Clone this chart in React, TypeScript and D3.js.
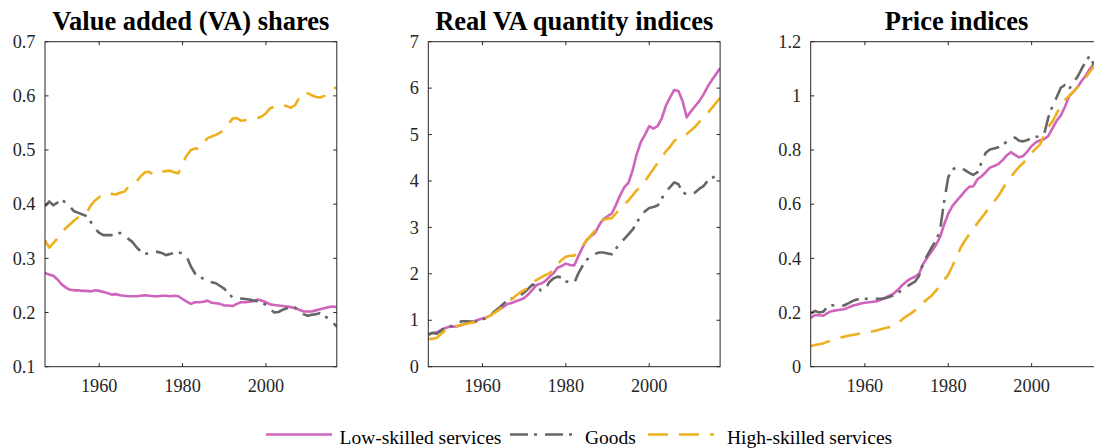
import React from 'react';
import * as d3 from 'd3';

const years: number[] = d3.range(1947, 2018);

// Panel 1: value added shares
const shareLow = [
  0.273, 0.270, 0.268, 0.261, 0.252, 0.246, 0.242, 0.241, 0.241, 0.240,
  0.240, 0.239, 0.241, 0.240, 0.238, 0.236, 0.233, 0.234, 0.232, 0.231,
  0.230, 0.230, 0.230, 0.231, 0.232, 0.231, 0.230, 0.230, 0.231, 0.231,
  0.230, 0.231, 0.230, 0.225, 0.220, 0.216, 0.219, 0.219, 0.220, 0.222,
  0.218, 0.217, 0.216, 0.213, 0.213, 0.212, 0.216, 0.219, 0.219, 0.220,
  0.221, 0.224, 0.222, 0.219, 0.215, 0.214, 0.213, 0.212, 0.211, 0.210,
  0.208, 0.205, 0.202, 0.202, 0.202, 0.204, 0.206, 0.208, 0.210, 0.211,
  0.210,
];
const shareGoods = [
  0.396, 0.405, 0.398, 0.403, 0.409, 0.402, 0.395, 0.387, 0.384, 0.381,
  0.378, 0.367, 0.355, 0.347, 0.343, 0.343, 0.343, 0.345, 0.347, 0.344,
  0.336, 0.330, 0.320, 0.313, 0.308, 0.310, 0.312, 0.312, 0.310, 0.306,
  0.308, 0.310, 0.311, 0.309, 0.303, 0.285, 0.272, 0.268, 0.262, 0.257,
  0.256, 0.254, 0.249, 0.244, 0.235, 0.228, 0.226, 0.226, 0.225, 0.224,
  0.222, 0.221, 0.219, 0.214, 0.207, 0.200, 0.201, 0.205, 0.208, 0.209,
  0.209, 0.204, 0.197, 0.194, 0.196, 0.197, 0.199, 0.195, 0.188, 0.182,
  0.174,
];
const shareHigh = [
  0.333, 0.320, 0.328, 0.337, 0.347, 0.356, 0.363, 0.370, 0.376, 0.380,
  0.384, 0.398, 0.407, 0.413, 0.420, 0.420, 0.419, 0.418, 0.421, 0.423,
  0.432, 0.437, 0.442, 0.452, 0.459, 0.460, 0.454, 0.457, 0.460, 0.461,
  0.462, 0.459, 0.457, 0.475, 0.490, 0.500, 0.503, 0.502, 0.513, 0.522,
  0.525, 0.528, 0.532, 0.538, 0.548, 0.558, 0.559, 0.554, 0.555, 0.556,
  0.557, 0.559, 0.562, 0.568, 0.577, 0.580, 0.583, 0.583, 0.581, 0.578,
  0.583, 0.597, 0.607, 0.605, 0.601, 0.598, 0.597, 0.600, 0.605, 0.611,
  0.617,
];

// Panel 2: real VA quantity indices
const qtyLow = [
  0.69, 0.72, 0.74, 0.79, 0.83, 0.86, 0.86, 0.87, 0.90, 0.93,
  0.96, 0.98, 1.01, 1.04, 1.06, 1.11, 1.18, 1.23, 1.29, 1.35,
  1.37, 1.41, 1.44, 1.48, 1.56, 1.66, 1.76, 1.79, 1.84, 1.93,
  2.01, 2.13, 2.17, 2.22, 2.19, 2.18, 2.38, 2.57, 2.73, 2.81,
  2.88, 3.05, 3.18, 3.24, 3.30, 3.48, 3.69, 3.86, 3.96, 4.22,
  4.58, 4.84, 5.00, 5.18, 5.13, 5.18, 5.35, 5.62, 5.80, 5.96,
  5.94, 5.72, 5.37, 5.50, 5.61, 5.72, 5.86, 6.03, 6.17, 6.30,
  6.43,
];
const qtyGoods = [
  0.69, 0.73, 0.71, 0.77, 0.84, 0.87, 0.88, 0.92, 0.98, 0.98,
  0.97, 0.96, 0.99, 1.02, 1.05, 1.12, 1.20, 1.27, 1.35, 1.43,
  1.47, 1.48, 1.53, 1.60, 1.68, 1.77, 1.74, 1.64, 1.65, 1.82,
  1.90, 1.94, 1.92, 1.84, 1.81, 1.80, 2.01, 2.17, 2.30, 2.39,
  2.43, 2.46, 2.46, 2.44, 2.42, 2.54, 2.66, 2.75, 2.85, 2.95,
  3.10, 3.25, 3.35, 3.42, 3.44, 3.47, 3.62, 3.77, 3.87, 3.97,
  3.93, 3.76, 3.71, 3.72, 3.75, 3.83, 3.89, 4.00, 4.07, 4.10,
  4.01,
];
const qtyHigh = [
  0.60, 0.60, 0.62, 0.70, 0.78, 0.83, 0.86, 0.88, 0.90, 0.92,
  0.94, 0.96, 0.98, 1.01, 1.06, 1.11, 1.17, 1.23, 1.30, 1.38,
  1.45, 1.53, 1.60, 1.65, 1.70, 1.80, 1.87, 1.92, 1.97, 2.01,
  2.08, 2.21, 2.30, 2.37, 2.39, 2.39, 2.50, 2.61, 2.72, 2.83,
  2.93, 3.07, 3.16, 3.19, 3.20, 3.30, 3.41, 3.50, 3.58, 3.69,
  3.80, 3.88, 4.00, 4.13, 4.26, 4.39, 4.50, 4.64, 4.74, 4.86,
  4.94, 4.97, 5.01, 5.09, 5.17, 5.27, 5.36, 5.46, 5.57, 5.68,
  5.79,
];

// Panel 3: price indices
const priceLow = [
  0.180, 0.191, 0.190, 0.188, 0.198, 0.205, 0.208, 0.210, 0.212, 0.218,
  0.225, 0.229, 0.233, 0.236, 0.238, 0.240, 0.242, 0.248, 0.256, 0.263,
  0.271, 0.285, 0.302, 0.315, 0.325, 0.332, 0.343, 0.380, 0.404, 0.425,
  0.448, 0.478, 0.525, 0.565, 0.594, 0.612, 0.630, 0.648, 0.664, 0.666,
  0.692, 0.703, 0.718, 0.735, 0.741, 0.748, 0.762, 0.780, 0.792, 0.782,
  0.773, 0.778, 0.795, 0.815, 0.828, 0.836, 0.840, 0.852, 0.880, 0.908,
  0.928, 0.960, 0.999, 1.015, 1.032, 1.055, 1.075, 1.100, 1.120, 1.140,
  1.160,
];
const priceGoods = [
  0.197, 0.206, 0.200, 0.203, 0.220, 0.226, 0.228, 0.225, 0.226, 0.234,
  0.242, 0.248, 0.250, 0.251, 0.251, 0.251, 0.251, 0.251, 0.254, 0.258,
  0.265, 0.273, 0.285, 0.295, 0.305, 0.314, 0.335, 0.384, 0.412, 0.440,
  0.465, 0.500, 0.610, 0.700, 0.728, 0.736, 0.734, 0.726, 0.716, 0.708,
  0.718, 0.755, 0.790, 0.802, 0.806, 0.810, 0.820, 0.830, 0.840, 0.846,
  0.834, 0.832, 0.837, 0.845, 0.849, 0.849, 0.858, 0.920, 0.962, 0.995,
  1.030, 1.040, 1.025, 1.050, 1.070, 1.100, 1.126, 1.150, 1.110, 1.120,
  1.140,
];
const priceHigh = [
  0.076, 0.080, 0.083, 0.086, 0.092, 0.097, 0.102, 0.107, 0.111, 0.114,
  0.117, 0.120, 0.123, 0.125, 0.128, 0.131, 0.135, 0.139, 0.143, 0.147,
  0.152, 0.162, 0.175, 0.187, 0.196, 0.208, 0.221, 0.236, 0.250, 0.262,
  0.280, 0.298, 0.320, 0.340, 0.372, 0.406, 0.440, 0.466, 0.488, 0.510,
  0.530, 0.550, 0.570, 0.590, 0.610, 0.630, 0.655, 0.680, 0.700, 0.720,
  0.738, 0.752, 0.772, 0.790, 0.805, 0.820, 0.855, 0.885, 0.905, 0.935,
  0.962, 0.985, 1.000, 1.015, 1.032, 1.048, 1.068, 1.090, 1.110, 1.130,
  1.150,
];

const xTicks = [1960, 1980, 2000];
const titles = ['Value added (VA) shares', 'Real VA quantity indices', 'Price indices'];
const yDomains: [number, number][] = [[0.1, 0.7], [0, 7], [0, 1.2]];
const yTicksList = [
  [0.1, 0.2, 0.3, 0.4, 0.5, 0.6, 0.7],
  [0, 1, 2, 3, 4, 5, 6, 7],
  [0, 0.2, 0.4, 0.6, 0.8, 1, 1.2],
];
const seriesNames = ['Low-skilled services', 'Goods', 'High-skilled services'];
const panelData = [
  [shareLow, shareGoods, shareHigh],
  [qtyLow, qtyGoods, qtyHigh],
  [priceLow, priceGoods, priceHigh],
];

const COLORS = ['#CF64BC', '#666666', '#EDB120'];
const DASHES = ['none', '18,6,3,8', '20,11'];
const LW = 2.6;
const FONT = '"Liberation Serif", "Times New Roman", serif';
const AXIS = '#262626';

const W = 1094;
const H = 448;
const PANEL_LEFTS = [45, 428.3, 810.7];
const PW = 291.8;
const TOP = 41.7;
const BOTTOM = 366.7;
const TICK = 3.5;

function Panel({ idx }: { idx: number }) {
  const left = PANEL_LEFTS[idx];
  const right = left + PW;
  const x = d3.scaleLinear().domain([1947, 2017]).range([left, right]);
  const y = d3.scaleLinear().domain(yDomains[idx]).range([BOTTOM, TOP]);
  const line = d3
    .line<number>()
    .x((_, i) => x(years[i]))
    .y((d) => y(d));
  const clipId = `clip-${idx}`;
  return (
    <g>
      <defs>
        <clipPath id={clipId}>
          <rect x={left} y={TOP} width={PW} height={BOTTOM - TOP} />
        </clipPath>
      </defs>
      <g clipPath={`url(#${clipId})`}>
        {panelData[idx].map((vals, s) => (
          <path
            key={s}
            d={line(vals) || ''}
            fill="none"
            stroke={COLORS[s]}
            strokeWidth={LW}
            strokeDasharray={DASHES[s]}
            strokeLinejoin="round"
          />
        ))}
      </g>
      <rect x={left} y={TOP} width={PW} height={BOTTOM - TOP} fill="none" stroke={AXIS} strokeWidth={1} />
      {xTicks.map((t) => (
        <g key={t}>
          <line x1={x(t)} x2={x(t)} y1={BOTTOM} y2={BOTTOM - TICK} stroke={AXIS} strokeWidth={1} />
          <line x1={x(t)} x2={x(t)} y1={TOP} y2={TOP + TICK} stroke={AXIS} strokeWidth={1} />
          <text x={x(t)} y={392} textAnchor="middle" fontFamily={FONT} fontSize={18.3} fill={AXIS}>
            {t}
          </text>
        </g>
      ))}
      {yTicksList[idx].map((t) => (
        <g key={t}>
          <line x1={left} x2={left + TICK} y1={y(t)} y2={y(t)} stroke={AXIS} strokeWidth={1} />
          <line x1={right} x2={right - TICK} y1={y(t)} y2={y(t)} stroke={AXIS} strokeWidth={1} />
          <text
            x={left - 9.5}
            y={y(t)}
            dy="0.34em"
            textAnchor="end"
            fontFamily={FONT}
            fontSize={18.3}
            fill={AXIS}
          >
            {String(t)}
          </text>
        </g>
      ))}
      <text
        x={(left + right) / 2}
        y={29.5}
        textAnchor="middle"
        fontFamily={FONT}
        fontWeight="bold"
        fontSize={26.5}
        fill="#000"
      >
        {titles[idx]}
      </text>
    </g>
  );
}

const LEGEND_X = [266, 510, 648];
const LEGEND_TEXT_X = [339.5, 585, 727];

export default function App() {
  return (
    <svg
      width={W}
      height={H}
      viewBox={`0 0 ${W} ${H}`}
      style={{ position: 'absolute', left: 0, top: 0, background: '#fff' }}
    >
      <rect x={0} y={0} width={W} height={H} fill="#fff" />
      {[0, 1, 2].map((i) => (
        <Panel key={i} idx={i} />
      ))}
      {seriesNames.map((name, s) => (
        <g key={name}>
          <line
            x1={LEGEND_X[s]}
            x2={LEGEND_X[s] + 66}
            y1={434.5}
            y2={434.5}
            stroke={COLORS[s]}
            strokeWidth={LW}
            strokeDasharray={DASHES[s]}
          />
          <text x={LEGEND_TEXT_X[s]} y={444} fontFamily={FONT} fontSize={19.5} fill="#000">
            {name}
          </text>
        </g>
      ))}
    </svg>
  );
}
